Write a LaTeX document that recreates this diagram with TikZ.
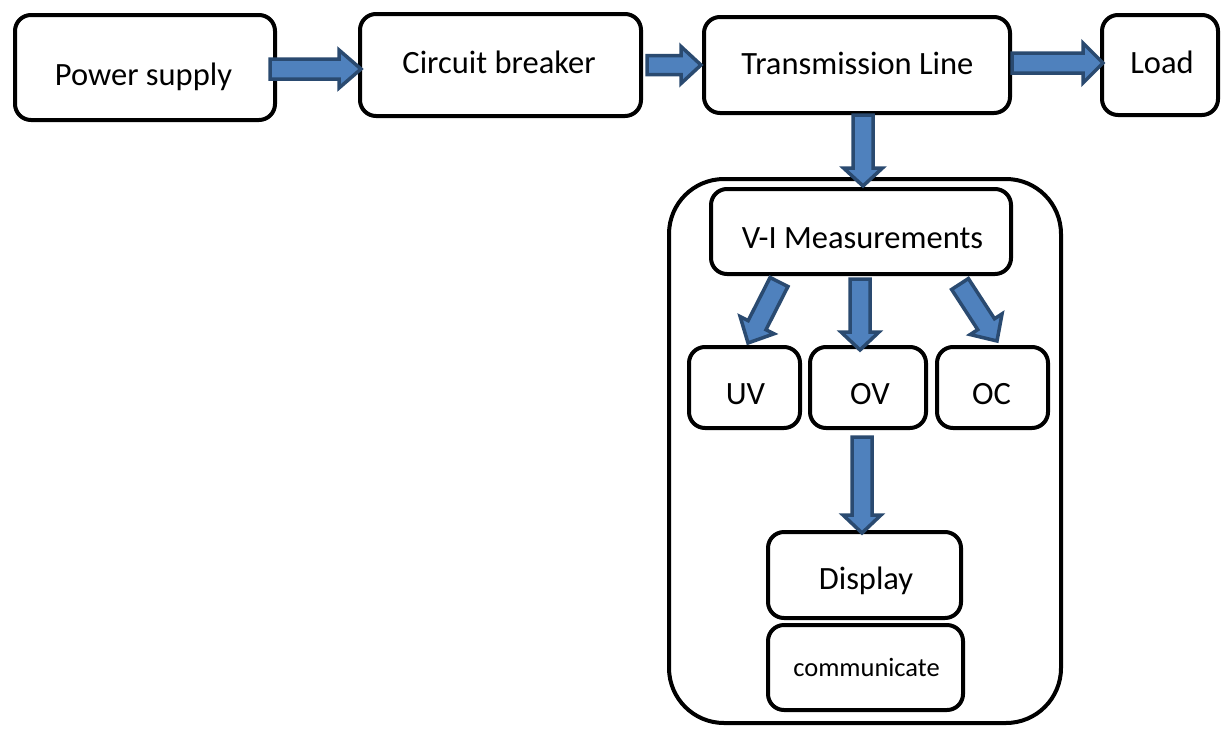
\documentclass[tikz,border=0pt]{standalone}
\usepackage{fontspec}
\setmainfont{Carlito}
\usetikzlibrary{calc}

\definecolor{arrowfill}{HTML}{4F81BD}
\definecolor{arrowedge}{HTML}{2A4A70}

\tikzset{
  box/.style={draw=black, line width=4pt, rounded corners=16pt, fill=white,
              inner sep=0pt},
  panel/.style={draw=black, line width=4pt, rounded corners=55pt, fill=white,
              inner sep=0pt},
  lbl/.style={font=\fontsize{32.5}{39}\selectfont, inner sep=0pt,
              text height=20.9pt, text depth=0pt},
  smalllbl/.style={font=\fontsize{26.5}{32}\selectfont, inner sep=0pt,
              text height=17.1pt, text depth=0pt},
  flow/.style={fill=arrowfill, draw=arrowedge, line width=3.5pt, line join=miter},
}

% outlined block arrow: #1 start, #2 tip, #3 half shaft width,
% #4 half head width, #5 head length (all in pt)
\newcommand\flowarrow[5]{%
  \draw[flow] let \p1=(#1), \p2=(#2),
      \n1={atan2(\y2-\y1,\x2-\x1)}, \n2={veclen(\x2-\x1,\y2-\y1)} in
      [shift={(\p1)}, rotate=\n1]
      (0pt,-#3pt) -- ({\n2-#5pt},-#3pt) -- ({\n2-#5pt},-#4pt)
      -- (\n2,0pt) -- ({\n2-#5pt},#4pt) -- ({\n2-#5pt},#3pt)
      -- (0pt,#3pt) -- cycle;
}

\begin{document}
\begin{tikzpicture}[x=1pt, y=-1pt]
  \useasboundingbox (0,0) rectangle (1222,728);

  % top row
  \node[box, minimum width=260pt, minimum height=105pt,
        label={[lbl, xshift=-1.5pt, yshift=-7.5pt]center:Power supply}]
        (ps) at (145,67.5) {};
  \node[box, minimum width=281pt, minimum height=102pt,
        label={[lbl, xshift=-1.5pt, yshift=2pt]center:Circuit breaker}]
        (cb) at (500.5,65) {};
  \node[box, minimum width=306pt, minimum height=96pt,
        label={[lbl, xshift=0.5pt, yshift=0.5pt]center:Transmission Line}]
        (tl) at (857,65) {};
  \node[box, minimum width=116pt, minimum height=100pt,
        label={[lbl, xshift=2pt, yshift=1.5pt]center:Load}]
        (ld) at (1160,65) {};

  % monitoring unit
  \node[panel, minimum width=392pt, minimum height=544pt] (unit) at (865,451) {};
  \node[box, minimum width=300pt, minimum height=85pt,
        label={[lbl, xshift=1.5pt, yshift=-7pt]center:V-I Measurements}]
        (vi) at (861,231.5) {};
  \node[box, minimum width=111pt, minimum height=81pt,
        label={[lbl, xshift=1pt, yshift=-6.5pt]center:UV}]
        (uv) at (744.5,387.5) {};
  \node[box, minimum width=116pt, minimum height=81pt,
        label={[lbl, xshift=2pt, yshift=-6.5pt]center:OV}]
        (ov) at (868,387.5) {};
  \node[box, minimum width=111pt, minimum height=81pt,
        label={[lbl, xshift=-1pt, yshift=-6.5pt]center:OC}]
        (oc) at (992.5,387.5) {};
  \node[box, minimum width=193pt, minimum height=86pt,
        label={[lbl, xshift=1.5pt, yshift=-4pt]center:Display}]
        (disp) at (864.5,575) {};
  \node[box, minimum width=195pt, minimum height=85pt,
        label={[smalllbl, xshift=1pt, yshift=0pt]center:communicate}]
        (comm) at (865.5,667.5) {};

  % connectors
  \flowarrow{$(ps.east)+(-7,1.5)$}{$(cb.west)+(3,4)$}{10}{19}{22}
  \flowarrow{$(cb.east)+(4,0)$}{$(tl.west)+(-1,0)$}{9.5}{18.5}{20}
  \flowarrow{$(tl.east)+(0,-2)$}{$(ld.west)+(3,-2)$}{10}{20}{20}
  \flowarrow{$(tl.south)+(6,0)$}{$(vi.north)+(2,-1)$}{10}{19.5}{18}
  \flowarrow{$(vi.south)+(-82,6)$}{$(uv.north)+(3.5,-2)$}{10}{19}{20}
  \flowarrow{$(vi.south)+(-1,3)$}{$(ov.north)+(-8,5)$}{10}{19}{18}
  \flowarrow{$(vi.south)+(99,8)$}{$(oc.north)+(4.5,-4)$}{10}{19}{20}
  \flowarrow{$(ov.south)+(-6,7)$}{$(disp.north)+(-2.5,3)$}{10}{19}{18}
\end{tikzpicture}
\end{document}
